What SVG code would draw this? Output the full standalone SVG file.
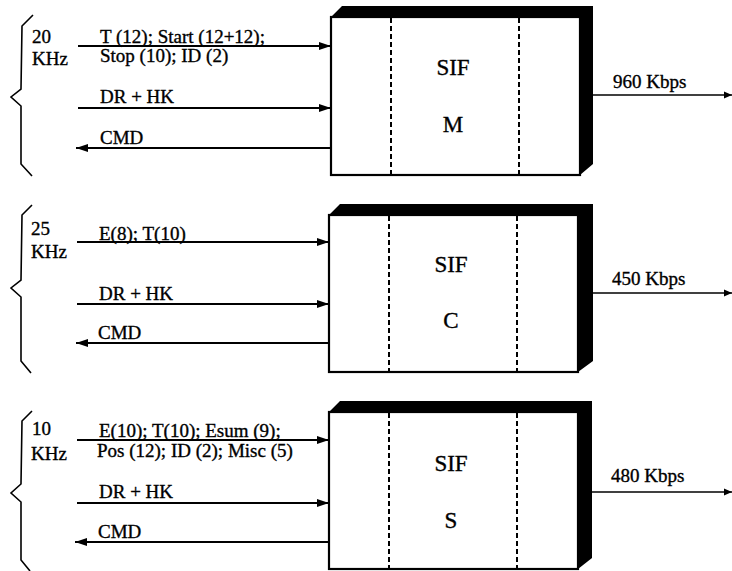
<svg xmlns="http://www.w3.org/2000/svg" width="732" height="571" viewBox="0 0 732 571">
<style>
text{font-family:"Liberation Serif","Times New Roman",serif;fill:#000;stroke:#000;stroke-width:0.35}
.lbl{font-size:19px}
.big{font-size:23px;text-anchor:middle}
.ln{stroke:#000;stroke-width:2;fill:none}
.out{stroke:#000;stroke-width:1.6;fill:none}
.brace{stroke:#000;stroke-width:1.6;fill:none;stroke-linejoin:miter}
.face{fill:#fff;stroke:#000;stroke-width:2.2}
.ext{fill:#000}
.dash{stroke:#000;stroke-width:2;stroke-dasharray:5 3;fill:none}
</style>
<defs>
<marker id="ah" markerWidth="13" markerHeight="9" refX="12" refY="4.5" orient="auto" markerUnits="userSpaceOnUse">
<path d="M0,0.5 L12,4.5 L0,8.5 Z" fill="#000"/>
</marker>
<marker id="ahs" markerWidth="9" markerHeight="8" refX="8" refY="4" orient="auto" markerUnits="userSpaceOnUse">
<path d="M0,0.5 L8,4 L0,7.5 Z" fill="#000"/>
</marker>
</defs>

<g id="node-sif-m">
<polygon class="ext" points="331,17 342,6 593,6 593,164 580,175 580,17"/>
<rect class="face" x="331" y="17" width="249" height="158"/>
<line class="dash" x1="391" y1="18" x2="391" y2="174"/>
<line class="dash" x1="519" y1="18" x2="519" y2="174"/>
<text class="big" x="453" y="75">SIF</text>
<text class="big" x="453" y="132">M</text>
</g>

<g id="node-sif-c">
<polygon class="ext" points="329,215 340,204 593,204 593,361 578,372 578,215"/>
<rect class="face" x="329" y="215" width="249" height="157"/>
<line class="dash" x1="389" y1="216" x2="389" y2="371"/>
<line class="dash" x1="517" y1="216" x2="517" y2="371"/>
<text class="big" x="451" y="272">SIF</text>
<text class="big" x="451" y="328">C</text>
</g>

<g id="node-sif-s">
<polygon class="ext" points="329,412 340,401 592,401 592,558 578,569 578,412"/>
<rect class="face" x="329" y="412" width="249" height="157"/>
<line class="dash" x1="389" y1="413" x2="389" y2="568"/>
<line class="dash" x1="517" y1="413" x2="517" y2="568"/>
<text class="big" x="451" y="471">SIF</text>
<text class="big" x="451" y="528">S</text>
</g>

<g id="group-20khz">
<path class="brace" d="M33,15 L22,26 L21,89 L11,97 L21,106 L21,164 L32,176"/>
<text class="lbl" x="32" y="43">20</text>
<text class="lbl" x="32" y="65">KHz</text>
</g>
<g id="group-25khz">
<path class="brace" d="M32,205 L22,215 L21,280 L11,288 L21,297 L21,361 L31,373"/>
<text class="lbl" x="31" y="235">25</text>
<text class="lbl" x="31" y="258">KHz</text>
</g>
<g id="group-10khz">
<path class="brace" d="M32,411 L22,421 L21,484 L11,493 L21,502 L21,560 L30,571"/>
<text class="lbl" x="32" y="435">10</text>
<text class="lbl" x="31" y="460">KHz</text>
</g>

<g id="connectors">
<line class="ln" x1="78" y1="46" x2="331" y2="46" marker-end="url(#ah)"/>
<line class="ln" x1="78" y1="108" x2="331" y2="108" marker-end="url(#ah)"/>
<line class="ln" x1="331" y1="148" x2="76" y2="148" marker-end="url(#ah)"/>
<line class="out" x1="593" y1="95" x2="732" y2="95" marker-end="url(#ahs)"/>

<line class="ln" x1="77" y1="242" x2="329" y2="242" marker-end="url(#ah)"/>
<line class="ln" x1="77" y1="304" x2="329" y2="304" marker-end="url(#ah)"/>
<line class="ln" x1="329" y1="343" x2="76" y2="343" marker-end="url(#ah)"/>
<line class="out" x1="593" y1="293" x2="732" y2="293" marker-end="url(#ahs)"/>

<line class="ln" x1="77" y1="440" x2="329" y2="440" marker-end="url(#ah)"/>
<line class="ln" x1="77" y1="503" x2="329" y2="503" marker-end="url(#ah)"/>
<line class="ln" x1="329" y1="542" x2="75" y2="542" marker-end="url(#ah)"/>
<line class="out" x1="592" y1="492" x2="732" y2="492" marker-end="url(#ahs)"/>

<text class="lbl" x="100" y="43">T (12); Start (12+12);</text>
<text class="lbl" x="100" y="62">Stop (10); ID (2)</text>
<text class="lbl" x="100" y="103">DR + HK</text>
<text class="lbl" x="100" y="144">CMD</text>
<text class="lbl" x="613" y="88">960 Kbps</text>

<text class="lbl" x="99" y="240">E(8); T(10)</text>
<text class="lbl" x="99" y="300">DR + HK</text>
<text class="lbl" x="98" y="339">CMD</text>
<text class="lbl" x="612" y="285">450 Kbps</text>

<text class="lbl" x="99" y="437">E(10); T(10); Esum (9);</text>
<text class="lbl" x="97" y="457">Pos (12); ID (2); Misc (5)</text>
<text class="lbl" x="99" y="498">DR + HK</text>
<text class="lbl" x="98" y="538">CMD</text>
<text class="lbl" x="611" y="482">480 Kbps</text>
</g>
</svg>
